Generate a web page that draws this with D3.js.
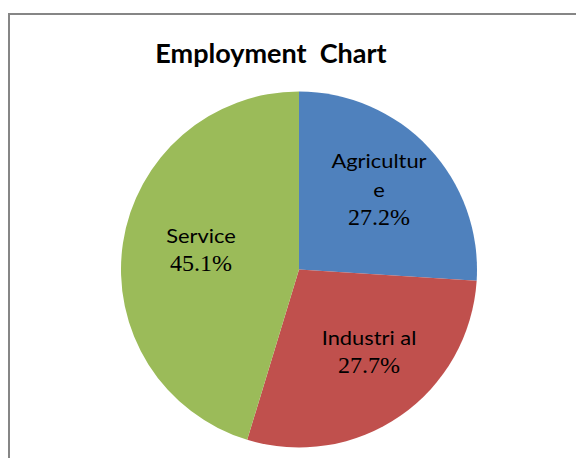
<!DOCTYPE html>
<html><head><meta charset="utf-8">
<script src="https://cdn.jsdelivr.net/npm/d3@7"></script>
<style>body{margin:0;background:#fff}svg{display:block}</style>
</head><body>
<script>
// Data
const categories = ["Agriculture", "Industrial", "Service"];
const values = [26.0, 28.7, 45.3];            // slice sizes as drawn
const percentLabels = ["27.2%", "27.7%", "45.1%"];
const nameLines = [["Agricultur", "e"], ["Industri al"], ["Service"]];
const colors = ["#4F81BD", "#C0504D", "#9BBB59"];
const title = "Employment  Chart";

const W = 576, H = 458;
const svg = d3.select("body").append("svg").attr("width", W).attr("height", H);
svg.append("rect").attr("x", 9).attr("y", 14).attr("width", W + 20).attr("height", H + 20)
  .attr("fill", "#fff").attr("stroke", "#868686").attr("stroke-width", 2);

svg.append("text").attr("x", 271).attr("y", 63).attr("text-anchor", "middle")
  .style("white-space", "pre")
  .style("font-family", '"Lato", sans-serif').style("font-weight", "bold")
  .style("font-size", "27px").attr("fill", "#000").text(title);

const cx = 299, cy = 269.5, r = 178;
const g = svg.append("g").attr("transform", `translate(${cx},${cy})`);
const pie = d3.pie().sort(null).value((d, i) => values[i]);
const arcs = pie(categories);
const arc = d3.arc().innerRadius(0).outerRadius(r);
g.selectAll("path").data(arcs).join("path")
  .attr("d", arc).attr("fill", (d, i) => colors[i]);

// label layout: first-line baseline relative to pie center
const labelAnchors = [[80, -101.5], [70, 75.5], [-98, -26.5]];
const lh = 29, pctGap = 28;
arcs.forEach((a, i) => {
  const [lx, ly] = labelAnchors[i];
  const lines = nameLines[i];
  const t = g.append("g");
  lines.forEach((s, k) => {
    t.append("text")
      .attr("transform", `translate(${lx},${ly + k * lh}) scale(1.15,1)`)
      .attr("text-anchor", "middle")
      .style("font-family", '"Lato", sans-serif')
      .style("font-size", "19px").attr("fill", "#000").text(s);
  });
  t.append("text").attr("x", lx).attr("y", ly + (lines.length - 1) * lh + pctGap)
    .attr("text-anchor", "middle")
    .style("font-family", '"Liberation Serif", serif')
    .style("font-size", "24px").attr("fill", "#000").text(percentLabels[i]);
});
</script>
</body></html>
